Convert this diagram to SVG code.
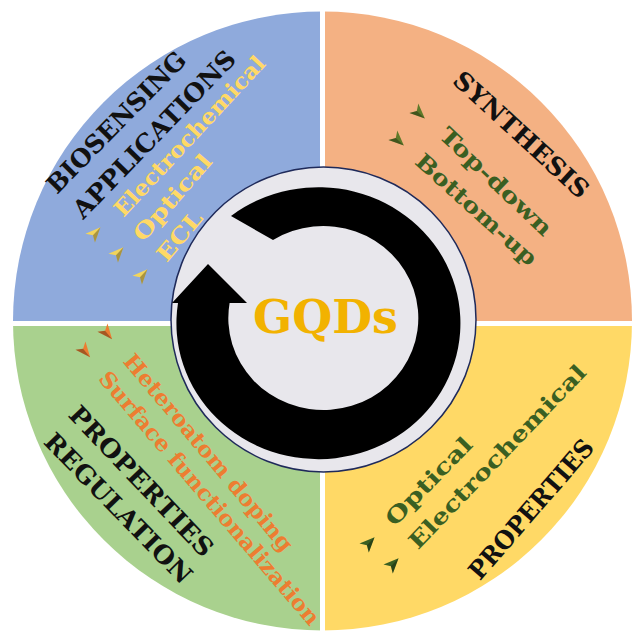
<svg xmlns="http://www.w3.org/2000/svg" width="636" height="633" viewBox="0 0 636 633">
<style>
.t{font-family:"DejaVu Serif","Liberation Serif",serif;font-weight:bold;text-anchor:middle}
.h{font-size:25px;fill:#111}
.i{font-size:22px}
.y{fill:#FFD966}
.g{fill:#3A5F22}
.o{fill:#ED7D31}
</style>
<defs>
<g id="bul">
<path d="M-7,-6.5 L8,0 L-7,6.5 L-3,0 Z"/>
<path d="M-7,6.5 L8,0 L-3,0 Z" fill="#000" fill-opacity="0.3"/>
</g>
</defs>
<g id="background">
<path d="M322.5,321 L13,321 A309.5,309.5 0 0 1 322.5,11.5 Z" fill="#8FAADC"/>
<path d="M322.5,321 L322.5,11.5 A309.5,309.5 0 0 1 632,321 Z" fill="#F4B183"/>
<path d="M322.5,321 L632,321 A309.5,309.5 0 0 1 322.5,630.5 Z" fill="#FFD966"/>
<path d="M322.5,321 L322.5,630.5 A309.5,309.5 0 0 1 13,321 Z" fill="#A9D18E"/>
<rect x="320" y="0" width="5" height="633" fill="#fff"/>
<rect x="0" y="321" width="636" height="5" fill="#fff"/>
</g>
<g id="center">
<circle cx="323.5" cy="319.5" r="152.5" fill="#E8E7EC" stroke="#1F2A5A" stroke-width="1.5"/>
<path d="M178,303 L172,303 L208,264 L247,303 L229.6,303 A95,92 0 1 0 273,240 L231,216 A142,136 0 1 1 178,303 Z" fill="#000"/>
<text class="t" x="325.5" y="333" font-size="47" fill="#F2B200" textLength="145" lengthAdjust="spacingAndGlyphs">GQDs</text>
</g>
<g id="biosensing">
<text class="t h" transform="translate(116,122) rotate(-45.5)" dy="9" textLength="187" lengthAdjust="spacingAndGlyphs">BIOSENSING</text>
<text class="t h" transform="translate(154,134) rotate(-46)" dy="9" textLength="222" lengthAdjust="spacingAndGlyphs">APPLICATIONS</text>
<text class="t i y" transform="translate(190,136.5) rotate(-47)" dy="7" textLength="210" lengthAdjust="spacingAndGlyphs">Electrochemical</text>
<text class="t i y" transform="translate(173,198) rotate(-49)" dy="7" textLength="107" lengthAdjust="spacingAndGlyphs">Optical</text>
<text class="t i y" transform="translate(180,236.5) rotate(-50)" dy="7" textLength="58" lengthAdjust="spacingAndGlyphs">ECL</text>
<use href="#bul" transform="translate(95,233) rotate(-47)" fill="#F2D45C"/>
<use href="#bul" transform="translate(118,253) rotate(-47)" fill="#F2D45C"/>
<use href="#bul" transform="translate(142,275) rotate(-47)" fill="#F2D45C"/>
</g>
<g id="synthesis">
<text class="t h" transform="translate(521.5,134.5) rotate(42.5)" dy="9" textLength="174" lengthAdjust="spacingAndGlyphs">SYNTHESIS</text>
<text class="t i g" transform="translate(495.5,182) rotate(43.5)" dy="7" textLength="146" lengthAdjust="spacingAndGlyphs">Top-down</text>
<text class="t i g" transform="translate(476,210) rotate(42)" dy="7" textLength="155" lengthAdjust="spacingAndGlyphs">Bottom-up</text>
<use href="#bul" transform="translate(419,113) rotate(43)" fill="#5E7A2A"/>
<use href="#bul" transform="translate(398,140) rotate(43)" fill="#5E7A2A"/>
</g>
<g id="properties">
<text class="t i g" transform="translate(428.5,481) rotate(-45.7)" dy="8" font-size="24" textLength="114" lengthAdjust="spacingAndGlyphs">Optical</text>
<text class="t i g" transform="translate(497,456.5) rotate(-46.2)" dy="8" font-size="24" textLength="245" lengthAdjust="spacingAndGlyphs">Electrochemical</text>
<text class="t h" transform="translate(531,509) rotate(-49)" dy="9" textLength="176" lengthAdjust="spacingAndGlyphs">PROPERTIES</text>
<use href="#bul" transform="translate(369,543) rotate(-46)" fill="#3A5F22"/>
<use href="#bul" transform="translate(393,564) rotate(-46)" fill="#3A5F22"/>
</g>
<g id="regulation">
<text class="t i o" transform="translate(208,453) rotate(50)" dy="7" textLength="250" lengthAdjust="spacingAndGlyphs">Heteroatom doping</text>
<text class="t i o" transform="translate(209,498.5) rotate(49.4)" dy="7" textLength="326" lengthAdjust="spacingAndGlyphs">Surface functionalization</text>
<text class="t h" transform="translate(141.5,481) rotate(46.5)" dy="9" textLength="197" lengthAdjust="spacingAndGlyphs">PROPERTIES</text>
<text class="t h" transform="translate(118.5,508) rotate(45.7)" dy="9" textLength="199" lengthAdjust="spacingAndGlyphs">REGULATION</text>
<use href="#bul" transform="translate(107,333) rotate(50)" fill="#ED7D31"/>
<use href="#bul" transform="translate(85,351) rotate(50)" fill="#ED7D31"/>
</g>
</svg>
